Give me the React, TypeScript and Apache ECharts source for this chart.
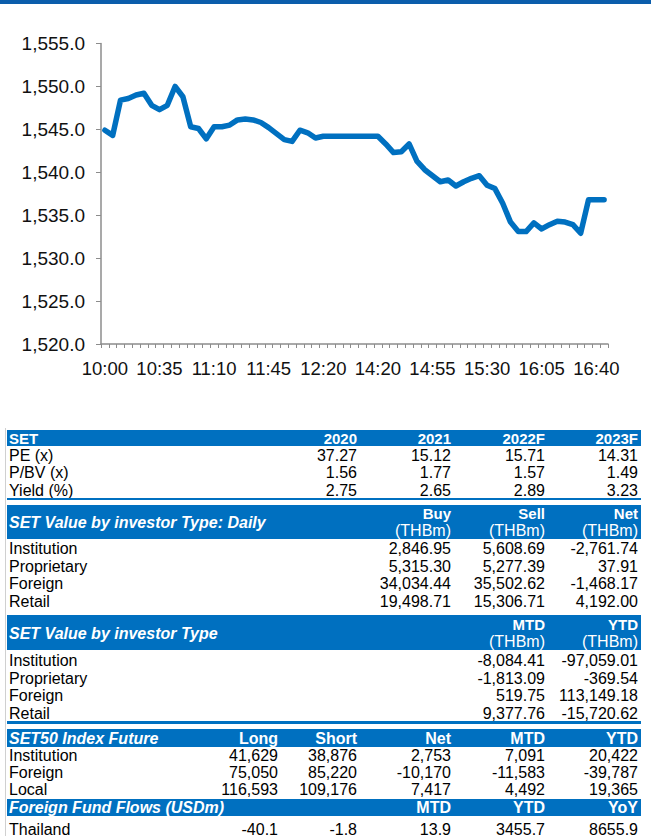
import React, { useEffect, useRef } from "react";
import * as echarts from "echarts";

// ---------- chart data ----------
const times = [
  "10:00","10:05","10:10","10:15","10:20","10:25","10:30","10:35","10:40","10:45",
  "10:50","10:55","11:00","11:05","11:10","11:15","11:20","11:25","11:30","11:35",
  "11:40","11:45","11:50","11:55","12:00","12:05","12:10","12:15","12:20","12:25",
  "12:30",
  "14:00","14:05","14:10","14:15","14:20","14:25","14:30","14:35","14:40","14:45",
  "14:50","14:55","15:00","15:05","15:10","15:15","15:20","15:25","15:30","15:35",
  "15:40","15:45","15:50","15:55","16:00","16:05","16:10","16:15","16:20","16:25",
  "16:30","16:35","16:40","16:45",
];
const indexValues = [
  1544.9, 1544.3, 1548.4, 1548.6, 1549.0, 1549.2, 1547.8, 1547.3, 1547.8, 1550.0,
  1548.8, 1545.3, 1545.1, 1543.9, 1545.3, 1545.3, 1545.5, 1546.1, 1546.2, 1546.1,
  1545.8, 1545.2, 1544.5, 1543.8, 1543.6, 1544.9, 1544.6, 1544.0, 1544.2, 1544.2,
  1544.2, 1544.2, 1544.2, 1544.2, 1544.2, 1544.2, 1543.3, 1542.3, 1542.4, 1543.3,
  1541.3, 1540.3, 1539.6, 1538.9, 1539.1, 1538.4, 1538.9, 1539.3, 1539.6, 1538.5,
  1538.1, 1536.4, 1534.2, 1533.1, 1533.1, 1534.1, 1533.4, 1533.9, 1534.3, 1534.2,
  1533.9, 1532.9, 1536.8, 1536.8, 1536.8,
];

// ---------- table data ----------
const setHeader = ["SET", "2020", "2021", "2022F", "2023F"];
const setRowLabels = ["PE (x)", "P/BV (x)", "Yield (%)"];
const setRowValues = [
  ["37.27", "15.12", "15.71", "14.31"],
  ["1.56", "1.77", "1.57", "1.49"],
  ["2.75", "2.65", "2.89", "3.23"],
];

const dailyTitle = "SET Value by investor Type: Daily";
const dailyCols = ["Buy", "Sell", "Net"];
const dailyUnit = "(THBm)";
const investorLabels = ["Institution", "Proprietary", "Foreign", "Retail"];
const dailyValues = [
  ["2,846.95", "5,608.69", "-2,761.74"],
  ["5,315.30", "5,277.39", "37.91"],
  ["34,034.44", "35,502.62", "-1,468.17"],
  ["19,498.71", "15,306.71", "4,192.00"],
];

const periodTitle = "SET Value by investor Type";
const periodCols = ["MTD", "YTD"];
const periodValues = [
  ["-8,084.41", "-97,059.01"],
  ["-1,813.09", "-369.54"],
  ["519.75", "113,149.18"],
  ["9,377.76", "-15,720.62"],
];

const futHeader = ["SET50 Index Future", "Long", "Short", "Net", "MTD", "YTD"];
const futLabels = ["Institution", "Foreign", "Local"];
const futValues = [
  ["41,629", "38,876", "2,753", "7,091", "20,422"],
  ["75,050", "85,220", "-10,170", "-11,583", "-39,787"],
  ["116,593", "109,176", "7,417", "4,492", "19,365"],
];

const flowHeader = ["Foreign Fund Flows (USDm)", "", "", "MTD", "YTD", "YoY"];
const flowLabels = ["Thailand"];
const flowValues = [["-40.1", "-1.8", "13.9", "3455.7", "8655.9"]];

const FONT = "'Liberation Sans', Arial, sans-serif";
const BLUE = "#0070C0";

function txt(
  text: string,
  x: number,
  y: number,
  opts: { align?: string; color?: string; bold?: boolean; italic?: boolean; size?: number } = {}
) {
  const align = opts.align || "left";
  return {
    type: "text",
    x,
    y,
    silent: true,
    style: {
      text,
      fill: opts.color || "#000",
      fontFamily: FONT,
      fontSize: opts.size || 16,
      fontWeight: opts.bold ? "bold" : "normal",
      fontStyle: opts.italic ? "italic" : "normal",
      align,
      textAlign: align,
      verticalAlign: "middle",
      textVerticalAlign: "middle",
    },
  };
}

function band(y: number, h: number) {
  return { type: "rect", silent: true, shape: { x: 7, y, width: 634, height: h }, style: { fill: BLUE } };
}

function buildTable() {
  const els: any[] = [];
  const LX = 9;
  const c4 = [357, 451, 545, 638];
  const c3 = [451, 545, 638];
  const c2 = [545, 638];
  const c5 = [278, 357, 451, 545, 638];
  const H = { color: "#fff", bold: true, size: 15 };

  // left border
  els.push({ type: "line", silent: true, shape: { x1: 5.5, y1: 428, x2: 5.5, y2: 836 }, style: { stroke: "#d0d0d0", lineWidth: 1 } });

  // table 1
  els.push(band(430, 16));
  els.push(txt(setHeader[0], LX, 438.5, H));
  setHeader.slice(1).forEach((h, i) => els.push(txt(h, c4[i], 438.5, { ...H, align: "right" })));
  const r1 = [455, 472.5, 490];
  setRowLabels.forEach((l, r) => {
    els.push(txt(l, LX, r1[r]));
    setRowValues[r].forEach((v, i) => els.push(txt(v, c4[i], r1[r], { align: "right" })));
  });
  els.push({ type: "rect", silent: true, shape: { x: 7, y: 498, width: 634, height: 2 }, style: { fill: BLUE } });

  // table 2
  els.push(band(505, 34));
  els.push(txt(dailyTitle, LX, 522, { color: "#fff", bold: true, italic: true, size: 16 }));
  dailyCols.forEach((h, i) => {
    els.push(txt(h, c3[i], 513.5, { ...H, align: "right" }));
    els.push(txt(dailyUnit, c3[i], 530.5, { color: "#fff", align: "right", size: 16 }));
  });
  const r2 = [548, 566, 583, 601];
  investorLabels.forEach((l, r) => {
    els.push(txt(l, LX, r2[r]));
    dailyValues[r].forEach((v, i) => els.push(txt(v, c3[i], r2[r], { align: "right" })));
  });

  // table 3
  els.push(band(615, 35));
  els.push(txt(periodTitle, LX, 633, { color: "#fff", bold: true, italic: true, size: 16 }));
  periodCols.forEach((h, i) => {
    els.push(txt(h, c2[i], 624, { ...H, align: "right" }));
    els.push(txt(dailyUnit, c2[i], 641, { color: "#fff", align: "right", size: 16 }));
  });
  const r3 = [660, 678, 695, 713];
  investorLabels.forEach((l, r) => {
    els.push(txt(l, LX, r3[r]));
    periodValues[r].forEach((v, i) => els.push(txt(v, c2[i], r3[r], { align: "right" })));
  });
  els.push({ type: "rect", silent: true, shape: { x: 7, y: 721, width: 634, height: 3 }, style: { fill: BLUE } });

  // table 4
  els.push(band(729, 18));
  els.push(txt(futHeader[0], LX, 738, { color: "#fff", bold: true, italic: true, size: 16 }));
  futHeader.slice(1).forEach((h, i) => els.push(txt(h, c5[i], 738, { ...H, size: 16, align: "right" })));
  const r4 = [755, 772, 789];
  futLabels.forEach((l, r) => {
    els.push(txt(l, LX, r4[r]));
    futValues[r].forEach((v, i) => els.push(txt(v, c5[i], r4[r], { align: "right" })));
  });

  // table 5
  els.push(band(799, 17));
  els.push(txt(flowHeader[0], LX, 807.5, { color: "#fff", bold: true, italic: true, size: 16 }));
  flowHeader.slice(1).forEach((h, i) => {
    if (h) els.push(txt(h, c5[i], 807.5, { ...H, size: 16, align: "right" }));
  });
  const r5 = [829];
  flowLabels.forEach((l, r) => {
    els.push(txt(l, LX, r5[r]));
    flowValues[r].forEach((v, i) => els.push(txt(v, c5[i], r5[r], { align: "right" })));
  });

  return els;
}

export default function App() {
  const ref = useRef<HTMLDivElement>(null);
  useEffect(() => {
    document.body.style.margin = "0";
    const chart = echarts.init(ref.current!, null, { renderer: "svg" });
    chart.setOption({
      animation: false,
      backgroundColor: "#fff",
      grid: { left: 101, right: 43, top: 43.5, bottom: 492, containLabel: false },
      xAxis: {
        type: "category",
        data: times,
        boundaryGap: true,
        axisLine: { show: true, lineStyle: { color: "#8c8c8c", width: 1.5 } },
        axisTick: { show: true, interval: 0, length: 4, lineStyle: { color: "#8c8c8c", width: 1 } },
        axisLabel: { interval: 6, color: "#111", fontSize: 18.5, fontFamily: FONT, margin: 15 },
        splitLine: { show: false },
      },
      yAxis: {
        type: "value",
        min: 1520,
        max: 1555,
        interval: 5,
        axisLine: { show: true, lineStyle: { color: "#8c8c8c", width: 1.5 } },
        axisTick: { show: true, length: 5, lineStyle: { color: "#8c8c8c", width: 1 } },
        axisLabel: {
          color: "#111",
          fontSize: 19,
          fontFamily: FONT,
          margin: 16,
          formatter: (v: number) =>
            v.toLocaleString("en-US", { minimumFractionDigits: 1, maximumFractionDigits: 1 }),
        },
        splitLine: { show: false },
      },
      series: [
        {
          type: "line",
          data: indexValues,
          symbol: "none",
          lineStyle: { color: BLUE, width: 5.5, join: "round", cap: "round" },
          silent: true,
        },
      ],
      graphic: [
        { type: "rect", silent: true, shape: { x: 0, y: 0, width: 651, height: 4 }, style: { fill: "#0B5DAB" } },
        ...buildTable(),
      ],
    });
    return () => chart.dispose();
  }, []);
  return <div ref={ref} style={{ width: 651, height: 836 }} />;
}
